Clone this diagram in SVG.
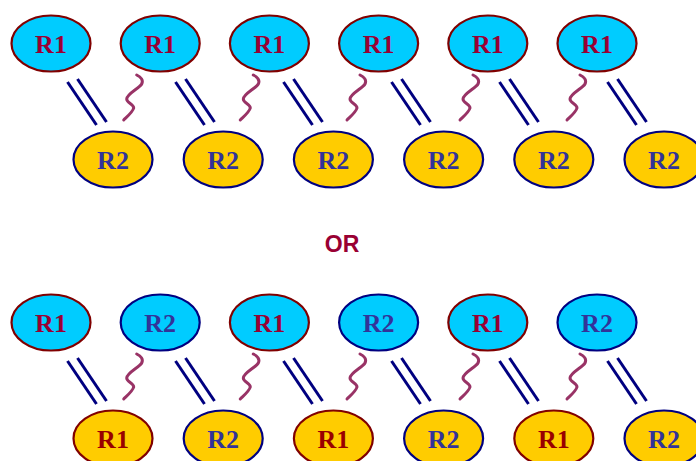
<svg xmlns="http://www.w3.org/2000/svg" xmlns:xlink="http://www.w3.org/1999/xlink" width="696" height="461" viewBox="0 0 696 461">
  <style>
    .up { fill: #00CCFF; }
    .down { fill: #FFCC00; }
    .o1 { stroke: #800000; stroke-width: 2.2; }
    .o2 { stroke: #000080; stroke-width: 2.2; }
    .lbl { font-family: "Liberation Serif", "Times New Roman", serif; font-weight: bold; font-size: 26px; text-anchor: middle; }
    .t1 { fill: #990033; }
    .t1b { fill: #990000; }
    .t2 { fill: #333399; }
    .bond { stroke: #000080; stroke-width: 3; fill: none; }
    .wave { stroke: #993366; stroke-width: 3; fill: none; stroke-linecap: round; }
    .or { font-family: "Liberation Sans", Arial, sans-serif; font-weight: bold; font-size: 23px; fill: #990033; text-anchor: middle; }
  </style>
  <defs>
    <ellipse id="shape" cx="0" cy="0" rx="39.5" ry="28"/>
    <g id="dbl">
      <line x1="0" y1="82" x2="29" y2="125"/>
      <line x1="10" y1="79" x2="39" y2="122"/>
    </g>
    <path id="sq" d="M0,0 C4,2 7,5 5,9 C3,13 -10,19 -10,24 C-10,28 -3,29 -3,33 C-4,37 -10,42 -13,45"/>
  </defs>

  <!-- connectors: double bonds and wavy links -->
  <g id="connectors">
    <g class="bond">
      <use xlink:href="#dbl" x="67.5" y="0"/>
      <use xlink:href="#dbl" x="175.5" y="0"/>
      <use xlink:href="#dbl" x="283.5" y="0"/>
      <use xlink:href="#dbl" x="391.5" y="0"/>
      <use xlink:href="#dbl" x="499.5" y="0"/>
      <use xlink:href="#dbl" x="607.5" y="0"/>
      <use xlink:href="#dbl" x="67.5" y="279"/>
      <use xlink:href="#dbl" x="175.5" y="279"/>
      <use xlink:href="#dbl" x="283.5" y="279"/>
      <use xlink:href="#dbl" x="391.5" y="279"/>
      <use xlink:href="#dbl" x="499.5" y="279"/>
      <use xlink:href="#dbl" x="607.5" y="279"/>
    </g>
    <g class="wave">
      <use xlink:href="#sq" x="136.7" y="75"/>
      <use xlink:href="#sq" x="253.3" y="75"/>
      <use xlink:href="#sq" x="360" y="75"/>
      <use xlink:href="#sq" x="473" y="75"/>
      <use xlink:href="#sq" x="580" y="75"/>
      <use xlink:href="#sq" x="136.7" y="354"/>
      <use xlink:href="#sq" x="253.3" y="354"/>
      <use xlink:href="#sq" x="360" y="354"/>
      <use xlink:href="#sq" x="473" y="354"/>
      <use xlink:href="#sq" x="580" y="354"/>
    </g>
  </g>

  <!-- upper chain: top row -->
  <g id="a-top-1"><use xlink:href="#shape" x="51" y="43.5" class="up o1"/><text class="lbl t1" x="51" y="53">R1</text></g>
  <g id="a-top-2"><use xlink:href="#shape" x="160.2" y="43.5" class="up o1"/><text class="lbl t1" x="160.2" y="53">R1</text></g>
  <g id="a-top-3"><use xlink:href="#shape" x="269.4" y="43.5" class="up o1"/><text class="lbl t1" x="269.4" y="53">R1</text></g>
  <g id="a-top-4"><use xlink:href="#shape" x="378.6" y="43.5" class="up o1"/><text class="lbl t1" x="378.6" y="53">R1</text></g>
  <g id="a-top-5"><use xlink:href="#shape" x="487.8" y="43.5" class="up o1"/><text class="lbl t1" x="487.8" y="53">R1</text></g>
  <g id="a-top-6"><use xlink:href="#shape" x="597" y="43.5" class="up o1"/><text class="lbl t1" x="597" y="53">R1</text></g>

  <!-- upper chain: bottom row -->
  <g id="a-bot-1"><use xlink:href="#shape" x="113" y="159.5" class="down o2"/><text class="lbl t2" x="113" y="169">R2</text></g>
  <g id="a-bot-2"><use xlink:href="#shape" x="223.2" y="159.5" class="down o2"/><text class="lbl t2" x="223.2" y="169">R2</text></g>
  <g id="a-bot-3"><use xlink:href="#shape" x="333.4" y="159.5" class="down o2"/><text class="lbl t2" x="333.4" y="169">R2</text></g>
  <g id="a-bot-4"><use xlink:href="#shape" x="443.6" y="159.5" class="down o2"/><text class="lbl t2" x="443.6" y="169">R2</text></g>
  <g id="a-bot-5"><use xlink:href="#shape" x="553.8" y="159.5" class="down o2"/><text class="lbl t2" x="553.8" y="169">R2</text></g>
  <g id="a-bot-6"><use xlink:href="#shape" x="664" y="159.5" class="down o2"/><text class="lbl t2" x="664" y="169">R2</text></g>

  <text id="or" class="or" x="342" y="251.5">OR</text>

  <!-- lower chain: top row -->
  <g id="b-top-1"><use xlink:href="#shape" x="51" y="322.5" class="up o1"/><text class="lbl t1" x="51" y="332">R1</text></g>
  <g id="b-top-2"><use xlink:href="#shape" x="160.2" y="322.5" class="up o2"/><text class="lbl t2" x="160.2" y="332">R2</text></g>
  <g id="b-top-3"><use xlink:href="#shape" x="269.4" y="322.5" class="up o1"/><text class="lbl t1" x="269.4" y="332">R1</text></g>
  <g id="b-top-4"><use xlink:href="#shape" x="378.6" y="322.5" class="up o2"/><text class="lbl t2" x="378.6" y="332">R2</text></g>
  <g id="b-top-5"><use xlink:href="#shape" x="487.8" y="322.5" class="up o1"/><text class="lbl t1" x="487.8" y="332">R1</text></g>
  <g id="b-top-6"><use xlink:href="#shape" x="597" y="322.5" class="up o2"/><text class="lbl t2" x="597" y="332">R2</text></g>

  <!-- lower chain: bottom row -->
  <g id="b-bot-1"><use xlink:href="#shape" x="113" y="438.5" class="down o1"/><text class="lbl t1b" x="113" y="448">R1</text></g>
  <g id="b-bot-2"><use xlink:href="#shape" x="223.2" y="438.5" class="down o2"/><text class="lbl t2" x="223.2" y="448">R2</text></g>
  <g id="b-bot-3"><use xlink:href="#shape" x="333.4" y="438.5" class="down o1"/><text class="lbl t1b" x="333.4" y="448">R1</text></g>
  <g id="b-bot-4"><use xlink:href="#shape" x="443.6" y="438.5" class="down o2"/><text class="lbl t2" x="443.6" y="448">R2</text></g>
  <g id="b-bot-5"><use xlink:href="#shape" x="553.8" y="438.5" class="down o1"/><text class="lbl t1b" x="553.8" y="448">R1</text></g>
  <g id="b-bot-6"><use xlink:href="#shape" x="664" y="438.5" class="down o2"/><text class="lbl t2" x="664" y="448">R2</text></g>
</svg>
